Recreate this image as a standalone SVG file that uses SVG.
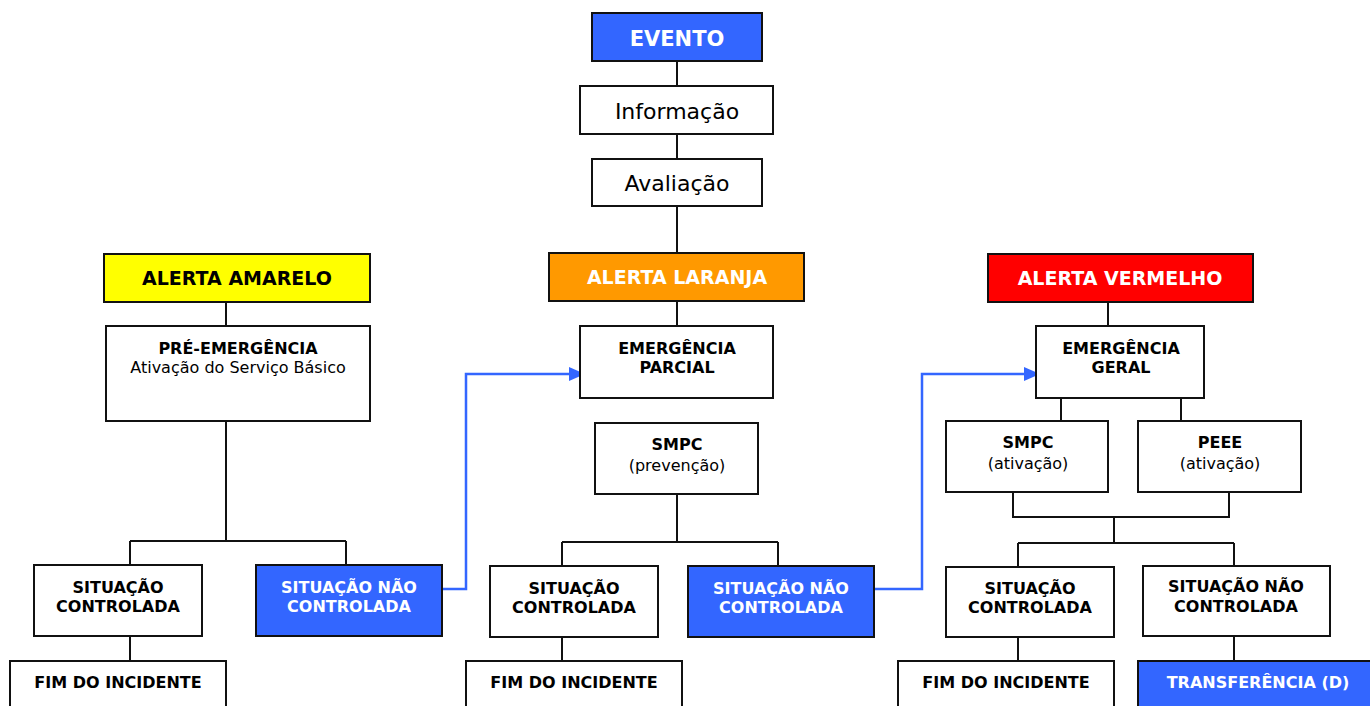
<svg xmlns="http://www.w3.org/2000/svg" width="1370" height="706" viewBox="0 0 1370 706">
<defs>
<style>
.box{stroke:#111;stroke-width:2;fill:#fff}
.blue{fill:#3366FF}
.t{font-family:"DejaVu Sans",Verdana,sans-serif;text-anchor:middle;fill:#000}
.b{font-weight:bold;font-size:16px}
.r{font-size:16px}
.big{font-weight:bold;font-size:19px}
.w{fill:#fff}
.ln{stroke:#111;stroke-width:2;fill:none}
.bl{stroke:#3366FF;stroke-width:2.5;fill:none}
</style>
<marker id="arrB" viewBox="0 0 16 14" refX="16" refY="7" markerWidth="16" markerHeight="14" markerUnits="userSpaceOnUse" orient="auto"><path d="M0,0 L16,7 L0,14 z" fill="#3366FF"/></marker>
</defs>
<rect width="1370" height="706" fill="#fff"/>
<g id="connectors">
<path class="ln" d="M677,61V86M677,134V159M677,206V253M677,301V326M677,494V542M562,542H778M562,542V566M778,542V566M562,637V661"/>
<path class="ln" d="M226,302V326M226,421V541M130,541H346M130,541V565M346,541V565M130,636V661"/>
<path class="ln" d="M1108,302V326M1061,398V421M1181,398V421M1013,492V517H1229V492M1114,517V543M1018,543H1234M1018,543V567M1234,543V566M1018,637V661M1234,636V661"/>
<path class="bl" d="M442,589H466V374H585" marker-end="url(#arrB)"/>
<path class="bl" d="M874,589H922V374H1040" marker-end="url(#arrB)"/>
</g>
<g id="evento"><rect class="box blue" x="592" y="13" width="170" height="48"/><text class="t w" x="677" y="46" font-weight="bold" font-size="21">EVENTO</text></g>
<g id="informacao"><rect class="box" x="580" y="86" width="193" height="48"/><text class="t" x="677" y="119" font-size="22">Informação</text></g>
<g id="avaliacao"><rect class="box" x="592" y="159" width="170" height="47"/><text class="t" x="677" y="191" font-size="22">Avaliação</text></g>
<g id="alerta-amarelo"><rect class="box" style="fill:#FFFF00" x="104" y="254" width="266" height="48"/><text class="t big" x="237" y="285">ALERTA AMARELO</text></g>
<g id="pre-emergencia"><rect class="box" x="106" y="326" width="264" height="95"/><text class="t b" x="238" y="354">PRÉ-EMERGÊNCIA</text><text class="t r" x="238" y="373">Ativação do Serviço Básico</text></g>
<g id="sit-ctrl-1"><rect class="box" x="34" y="565" width="168" height="71"/><text class="t b" x="118" y="593">SITUAÇÃO</text><text class="t b" x="118" y="612">CONTROLADA</text></g>
<g id="sit-nao-1"><rect class="box blue" x="256" y="565" width="186" height="71"/><text class="t b w" x="349" y="593">SITUAÇÃO NÃO</text><text class="t b w" x="349" y="612">CONTROLADA</text></g>
<g id="fim-1"><rect class="box" x="10" y="661" width="216" height="50"/><text class="t b" x="118" y="688">FIM DO INCIDENTE</text></g>
<g id="alerta-laranja"><rect class="box" style="fill:#FF9900" x="549" y="253" width="255" height="48"/><text class="t big w" x="677" y="284">ALERTA LARANJA</text></g>
<g id="emerg-parcial"><rect class="box" x="580" y="326" width="193" height="72"/><text class="t b" x="677" y="354">EMERGÊNCIA</text><text class="t b" x="677" y="373">PARCIAL</text></g>
<g id="smpc-prev"><rect class="box" x="595" y="423" width="163" height="71"/><text class="t b" x="677" y="450">SMPC</text><text class="t r" x="677" y="471">(prevenção)</text></g>
<g id="sit-ctrl-2"><rect class="box" x="490" y="566" width="168" height="71"/><text class="t b" x="574" y="594">SITUAÇÃO</text><text class="t b" x="574" y="613">CONTROLADA</text></g>
<g id="sit-nao-2"><rect class="box blue" x="688" y="566" width="186" height="71"/><text class="t b w" x="781" y="594">SITUAÇÃO NÃO</text><text class="t b w" x="781" y="613">CONTROLADA</text></g>
<g id="fim-2"><rect class="box" x="466" y="661" width="216" height="50"/><text class="t b" x="574" y="688">FIM DO INCIDENTE</text></g>
<g id="alerta-vermelho"><rect class="box" style="fill:#FF0000" x="988" y="254" width="265" height="48"/><text class="t big w" x="1120" y="285">ALERTA VERMELHO</text></g>
<g id="emerg-geral"><rect class="box" x="1036" y="326" width="168" height="72"/><text class="t b" x="1121" y="354">EMERGÊNCIA</text><text class="t b" x="1121" y="373">GERAL</text></g>
<g id="smpc-ativ"><rect class="box" x="946" y="421" width="162" height="71"/><text class="t b" x="1028" y="448">SMPC</text><text class="t r" x="1028" y="469">(ativação)</text></g>
<g id="peee-ativ"><rect class="box" x="1138" y="421" width="163" height="71"/><text class="t b" x="1220" y="448">PEEE</text><text class="t r" x="1220" y="469">(ativação)</text></g>
<g id="sit-ctrl-3"><rect class="box" x="946" y="567" width="168" height="70"/><text class="t b" x="1030" y="594">SITUAÇÃO</text><text class="t b" x="1030" y="613">CONTROLADA</text></g>
<g id="sit-nao-3"><rect class="box" x="1143" y="566" width="187" height="70"/><text class="t b" x="1236" y="592">SITUAÇÃO NÃO</text><text class="t b" x="1236" y="612">CONTROLADA</text></g>
<g id="fim-3"><rect class="box" x="898" y="661" width="216" height="50"/><text class="t b" x="1006" y="688">FIM DO INCIDENTE</text></g>
<g id="transferencia"><rect class="box blue" x="1138" y="661" width="240" height="50"/><text class="t b w" x="1258" y="688">TRANSFERÊNCIA (D)</text></g>
</svg>
